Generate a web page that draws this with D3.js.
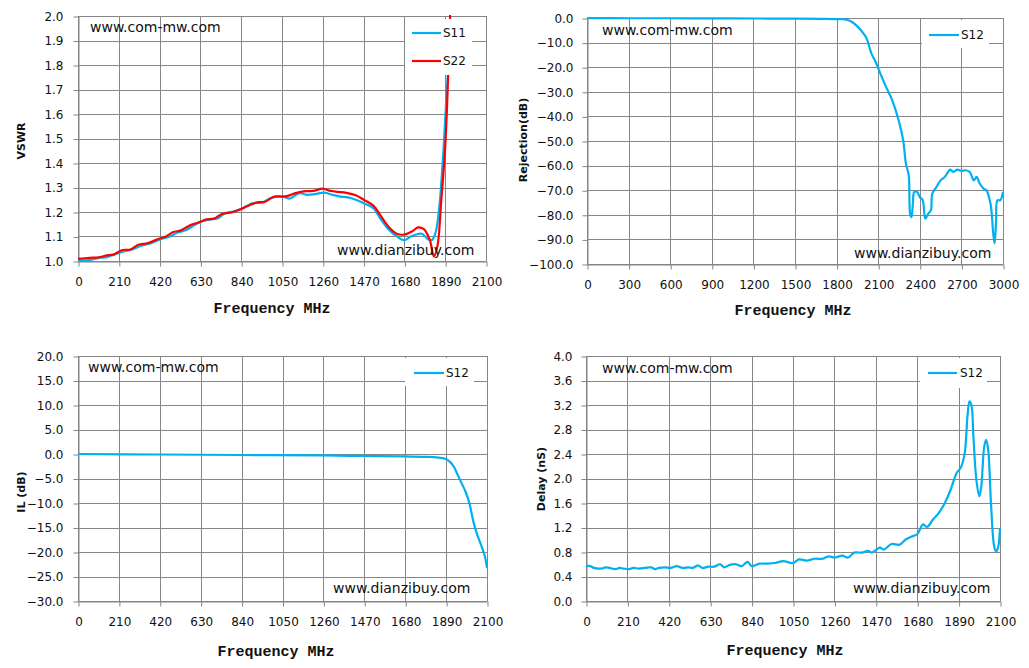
<!DOCTYPE html>
<html>
<head>
<meta charset="utf-8">
<script src="https://cdn.jsdelivr.net/npm/d3@7"></script>
<style>
  html, body { margin: 0; padding: 0; background: #fff; }
  svg { display: block; }
</style>
</head>
<body>
<svg id="chart" width="1029" height="668"></svg>
<script>
// ---------------- DATA ----------------
// VSWR panel (frequency MHz, VSWR)
const vswrFreq = [0, 60, 105, 150, 180, 230, 270, 310, 360, 420, 450, 490, 530, 580, 620, 660, 700, 740, 790, 840, 890, 930, 960, 1010, 1050, 1080, 1120, 1170, 1210, 1260, 1300, 1340, 1380, 1430, 1470, 1520, 1560, 1600, 1640, 1680, 1720, 1750, 1780, 1810, 1832, 1850, 1870, 1890, 1905, 1915, 1925];
const s22 = [1.009, 1.013, 1.015, 1.023, 1.026, 1.045, 1.047, 1.066, 1.073, 1.092, 1.099, 1.118, 1.125, 1.147, 1.157, 1.170, 1.173, 1.192, 1.198, 1.212, 1.231, 1.240, 1.241, 1.263, 1.263, 1.266, 1.277, 1.285, 1.286, 1.295, 1.286, 1.282, 1.278, 1.268, 1.250, 1.226, 1.182, 1.138, 1.111, 1.108, 1.121, 1.137, 1.130, 1.088, 1.019, 1.061, 1.25, 1.465, 1.75, 2.0, 2.3];
const s11Freq = [0, 60, 105, 150, 190, 230, 280, 320, 380, 430, 470, 510, 560, 600, 640, 680, 720, 760, 800, 850, 900, 950, 990, 1030, 1060, 1090, 1140, 1180, 1220, 1270, 1310, 1350, 1390, 1430, 1470, 1520, 1560, 1600, 1640, 1680, 1710, 1740, 1770, 1800, 1820, 1840, 1860, 1880, 1895, 1905];
const s11 = [1.001, 1.004, 1.012, 1.016, 1.027, 1.038, 1.047, 1.061, 1.074, 1.090, 1.099, 1.115, 1.128, 1.147, 1.162, 1.169, 1.175, 1.196, 1.202, 1.216, 1.236, 1.239, 1.256, 1.263, 1.262, 1.255, 1.277, 1.270, 1.273, 1.279, 1.270, 1.263, 1.260, 1.250, 1.236, 1.216, 1.169, 1.128, 1.101, 1.085, 1.099, 1.108, 1.111, 1.090, 1.085, 1.115, 1.223, 1.44, 1.65, 1.78];

// Rejection panel (frequency MHz, dB)
const rejFreq = [0, 300, 600, 900, 1200, 1500, 1700, 1800, 1850, 1900, 1950, 2000, 2020, 2050, 2080, 2100, 2150, 2200, 2250, 2280, 2300, 2320, 2330, 2340, 2350, 2360, 2380, 2400, 2420, 2440, 2460, 2480, 2490, 2520, 2550, 2580, 2620, 2640, 2670, 2700, 2730, 2760, 2790, 2810, 2830, 2860, 2880, 2910, 2930, 2940, 2950, 2960, 2980, 3000];
const rejS12 = [-0.05, -0.1, -0.1, -0.15, -0.2, -0.25, -0.35, -0.45, -0.5, -1.2, -3.4, -6.8, -8.8, -14.3, -17.7, -20.4, -27.2, -33.3, -42.2, -49.7, -59.2, -63.9, -79.6, -81.0, -75.5, -70.7, -70.7, -72.8, -73.9, -81.6, -79.6, -78.2, -71.4, -68.7, -66.0, -64.6, -61.6, -62.6, -61.6, -62.2, -61.9, -62.6, -66.0, -64.6, -67.1, -69.4, -70.0, -75.5, -87.8, -91.6, -82.4, -74.1, -74.1, -70.7];

// Insertion loss panel (frequency MHz, dB)
const ilFreq = [0, 420, 840, 1260, 1470, 1680, 1800, 1850, 1890, 1910, 1930, 1950, 1970, 1990, 2010, 2030, 2050, 2070, 2090, 2100];
const ilS12 = [0.0, -0.1, -0.2, -0.3, -0.4, -0.5, -0.6, -0.75, -1.0, -1.6, -2.6, -4.3, -6.0, -7.7, -10.1, -13.8, -16.5, -18.6, -21.0, -23.3];

// Group delay panel (frequency MHz, nS)
const delayFreq = [0, 20, 40, 60, 80, 100, 120, 150, 170, 190, 220, 240, 270, 300, 330, 350, 370, 400, 430, 460, 490, 520, 540, 570, 590, 620, 650, 680, 700, 730, 760, 790, 820, 840, 880, 920, 960, 1000, 1050, 1080, 1120, 1160, 1200, 1230, 1260, 1300, 1330, 1360, 1400, 1430, 1450, 1490, 1510, 1550, 1590, 1620, 1650, 1680, 1710, 1730, 1760, 1790, 1820, 1850, 1880, 1900, 1920, 1935, 1945, 1955, 1965, 1980, 1995, 2005, 2020, 2030, 2040, 2055, 2070, 2080, 2090, 2100];
const delayS12 = [0.57, 0.57, 0.54, 0.53, 0.53, 0.55, 0.54, 0.52, 0.54, 0.53, 0.52, 0.54, 0.53, 0.54, 0.55, 0.52, 0.54, 0.55, 0.54, 0.57, 0.54, 0.55, 0.54, 0.58, 0.54, 0.56, 0.56, 0.60, 0.55, 0.59, 0.60, 0.57, 0.64, 0.57, 0.61, 0.61, 0.62, 0.65, 0.62, 0.68, 0.66, 0.69, 0.69, 0.73, 0.71, 0.74, 0.71, 0.79, 0.79, 0.82, 0.79, 0.87, 0.84, 0.93, 0.92, 1.00, 1.05, 1.09, 1.25, 1.21, 1.33, 1.44, 1.60, 1.82, 2.09, 2.17, 2.39, 3.01, 3.26, 3.20, 2.69, 1.98, 1.71, 1.87, 2.52, 2.63, 2.47, 1.55, 0.90, 0.81, 0.87, 1.19];

// Tick values / labels
const freqTicks2100 = [0, 210, 420, 630, 840, 1050, 1260, 1470, 1680, 1890, 2100];
const freqTicks3000 = [0, 300, 600, 900, 1200, 1500, 1800, 2100, 2400, 2700, 3000];
const vswrTicks = [1.0, 1.1, 1.2, 1.3, 1.4, 1.5, 1.6, 1.7, 1.8, 1.9, 2.0];
const rejTicks = [0, -10, -20, -30, -40, -50, -60, -70, -80, -90, -100];
const ilTicks = [20, 15, 10, 5, 0, -5, -10, -15, -20, -25, -30];
const delayTicks = [0, 0.4, 0.8, 1.2, 1.6, 2.0, 2.4, 2.8, 3.2, 3.6, 4.0];

const xTitle = "Frequency MHz";
const watermark1 = "www.com-mw.com";
const watermark2 = "www.dianzibuy.com";

// ---------------- DRAWING ----------------
const BLUE = "#00B0F0", RED = "#FF0000", GRID = "#858585";
const svg = d3.select("#chart");
const defs = svg.append("defs");

const panels = [
  {
    id: "p1", l: 78, r: 486, t: 16, b: 261,
    xDom: [0, 2100], xTicks: freqTicks2100,
    yDom: [1.0, 2.0], yTicks: vswrTicks, yFmt: d3.format(".1f"), yLabelGap: 15,
    yTitle: "VSWR", yTitleX: 21, yTitleY: 141,
    xTitleX: 272, xTitleY: 313,
    wm1: [90, 32], wm2: [337, 255],
    series: [
      { name: "S11", x: s11Freq, y: s11, color: BLUE },
      { name: "S22", x: vswrFreq, y: s22, color: RED }
    ],
    legend: { x: 405, y: 19, w: 67, h: 56, lx1: 412, lx2: 441, tx: 443, rows: [33, 61] }
  },
  {
    id: "p2", l: 587, r: 1003, t: 18, b: 264,
    xDom: [0, 3000], xTicks: freqTicks3000,
    yDom: [-100, 0], yTicks: rejTicks, yFmt: d3.format(".1f"), yLabelGap: 14,
    yTitle: "Rejection(dB)", yTitleX: 523, yTitleY: 140,
    xTitleX: 793, xTitleY: 315,
    wm1: [602, 35], wm2: [854, 258],
    series: [ { name: "S12", x: rejFreq, y: rejS12, color: BLUE } ],
    legend: { x: 922, y: 20, w: 67, h: 28, lx1: 929, lx2: 959, tx: 961, rows: [35] }
  },
  {
    id: "p3", l: 78, r: 487, t: 356, b: 601,
    xDom: [0, 2100], xTicks: freqTicks2100,
    yDom: [-30, 20], yTicks: ilTicks, yFmt: d3.format(".1f"), yLabelGap: 15,
    yTitle: "IL (dB)", yTitleX: 21, yTitleY: 492,
    xTitleX: 276, xTitleY: 656,
    wm1: [88, 372], wm2: [333, 593],
    series: [ { name: "S12", x: ilFreq, y: ilS12, color: BLUE } ],
    legend: { x: 405, y: 358, w: 69, h: 28, lx1: 414, lx2: 444, tx: 446, rows: [373] }
  },
  {
    id: "p4", l: 586, r: 1000, t: 356, b: 601,
    xDom: [0, 2100], xTicks: freqTicks2100,
    yDom: [0, 4], yTicks: delayTicks, yFmt: d3.format(".1f"), yLabelGap: 14,
    yTitle: "Delay (nS)", yTitleX: 541, yTitleY: 479,
    xTitleX: 785, xTitleY: 655,
    wm1: [602, 373], wm2: [853, 593],
    series: [ { name: "S12", x: delayFreq, y: delayS12, color: BLUE } ],
    legend: { x: 920, y: 358, w: 67, h: 30, lx1: 928, lx2: 957, tx: 960, rows: [373] }
  }
];

panels.forEach(p => {
  const x = d3.scaleLinear().domain(p.xDom).range([p.l, p.r]);
  const y = d3.scaleLinear().domain(p.yDom).range([p.b, p.t]);
  const g = svg.append("g");

  // gridlines
  g.append("g").selectAll("line.h").data(p.yTicks).join("line")
    .attr("x1", p.l).attr("x2", p.r)
    .attr("y1", d => Math.round(y(d)) + 0.5).attr("y2", d => Math.round(y(d)) + 0.5)
    .attr("stroke", GRID).attr("stroke-width", 1);
  g.append("g").selectAll("line.v").data(p.xTicks).join("line")
    .attr("y1", p.t).attr("y2", p.b)
    .attr("x1", d => Math.round(x(d)) + 0.5).attr("x2", d => Math.round(x(d)) + 0.5)
    .attr("stroke", GRID).attr("stroke-width", 1);

  // axes
  const xAxis = d3.axisBottom(x).tickValues(p.xTicks).tickSize(5).tickSizeOuter(0).tickFormat(d3.format("d"));
  const yAxis = d3.axisLeft(y).tickValues(p.yTicks).tickSize(5).tickSizeOuter(0).tickFormat(p.yFmt);
  const gx = g.append("g").attr("transform", `translate(0.5,${Math.round(p.b) + 0.5})`).call(xAxis);
  const gy = g.append("g").attr("transform", `translate(${Math.round(p.l) + 0.5},0.5)`).call(yAxis);
  [gx, gy].forEach(a => {
    a.select(".domain").attr("stroke", GRID);
    a.selectAll(".tick line").attr("stroke", GRID);
    a.selectAll(".tick text").attr("fill", "#111")
      .style("font-family", "'DejaVu Sans', Verdana, sans-serif").style("font-size", "12px");
  });
  gx.selectAll(".tick text").attr("dy", "0.71em").attr("y", 16);
  gy.selectAll(".tick text").attr("x", -p.yLabelGap);

  // clip
  defs.append("clipPath").attr("id", "clip-" + p.id)
    .append("rect").attr("x", p.l).attr("y", p.t - 1).attr("width", p.r - p.l + 1).attr("height", p.b - p.t + 2);

  // lines
  const lineGen = d3.line().curve(d3.curveCatmullRom.alpha(0.5));
  p.series.forEach(s => {
    const pts = s.x.map((f, i) => [x(f), y(s.y[i])]);
    g.append("path").attr("d", lineGen(pts))
      .attr("fill", "none").attr("stroke", s.color).attr("stroke-width", 2.2)
      .attr("stroke-linejoin", "round")
      .attr("clip-path", `url(#clip-${p.id})`);
  });

  // watermarks
  g.append("text").attr("x", p.wm1[0]).attr("y", p.wm1[1]).text(watermark1)
    .style("font-family", "'DejaVu Sans', Verdana, sans-serif").style("font-size", "14px").attr("fill", "#111");
  g.append("text").attr("x", p.wm2[0]).attr("y", p.wm2[1]).text(watermark2)
    .style("font-family", "'DejaVu Sans', Verdana, sans-serif").style("font-size", "14px").attr("fill", "#111");

  // legend
  const L = p.legend;
  g.append("rect").attr("x", L.x).attr("y", L.y).attr("width", L.w).attr("height", L.h).attr("fill", "#fff");
  p.series.forEach((s, i) => {
    g.append("line").attr("x1", L.lx1).attr("x2", L.lx2).attr("y1", L.rows[i]).attr("y2", L.rows[i])
      .attr("stroke", s.color).attr("stroke-width", 2.2);
    g.append("text").attr("x", L.tx).attr("y", L.rows[i]).attr("dy", "0.36em").text(s.name)
      .style("font-family", "'DejaVu Sans', Verdana, sans-serif").style("font-size", "12px").attr("fill", "#111");
  });

  // axis titles
  g.append("text").attr("x", p.xTitleX).attr("y", p.xTitleY).attr("text-anchor", "middle").text(xTitle)
    .style("font-family", "'Liberation Mono', 'DejaVu Sans Mono', monospace").style("font-size", "15px")
    .style("font-weight", "bold").attr("fill", "#111");
  g.append("text").attr("transform", `translate(${p.yTitleX},${p.yTitleY}) rotate(-90)`)
    .attr("text-anchor", "middle").attr("dy", "0.36em").text(p.yTitle)
    .style("font-family", "'DejaVu Sans', Verdana, sans-serif").style("font-size", "11px")
    .style("font-weight", "bold").attr("fill", "#111");
});
</script>
</body>
</html>
